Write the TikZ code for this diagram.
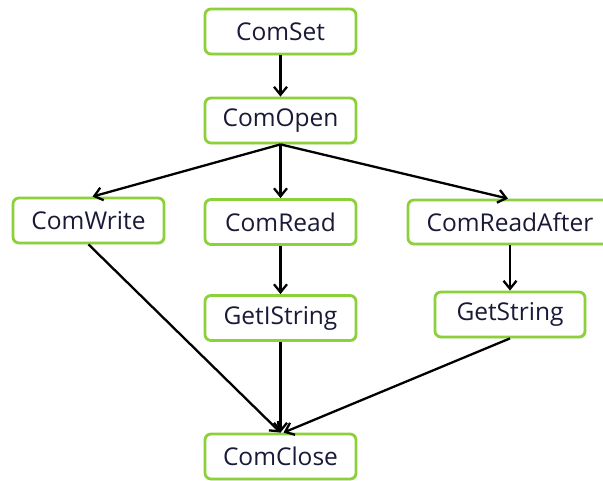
\documentclass[tikz,border=0pt]{standalone}
\usepackage{fontspec}
\setmainfont{Open Sans}
\usetikzlibrary{arrows.meta,shadows}
\definecolor{boxgreen}{HTML}{8CD13A}
\definecolor{txt}{HTML}{1A1A38}
\tikzset{
  box/.style={draw=boxgreen, line width=2.8pt, rounded corners=6pt, fill=white,
    minimum width=151pt, minimum height=45pt, inner sep=0pt, text=txt,
    font=\fontsize{24.5}{27}\selectfont,
    drop shadow={opacity=0.25, shadow xshift=1.2pt, shadow yshift=-1.5pt}},
  conn/.style={line width=2.3pt, -{Straight Barb[length=8pt,width=13pt,line width=2.3pt]}}
}
\begin{document}
\begin{tikzpicture}[x=1pt,y=1pt]
\useasboundingbox (0,0) rectangle (603,481);
\clip (0,0) rectangle (603,481);
\node[box] (set) at (280.5,449.5) {ComSet};
\node[box] (open) at (280.5,360.5) {ComOpen};
\node[box] (write) at (88.5,260.5) {ComWrite};
\node[box] (read) at (280.5,259) {ComRead};
\node[box, minimum width=204pt, minimum height=44pt] (after) at (510,259) {ComReadAfter};
\node[box] (geti) at (280.5,163) {GetIString};
\node[box, minimum width=150pt] (gets) at (510,166.5) {GetString};
\node[box] (close) at (280.5,24.5) {ComClose};
\draw[conn] (set) -- (open);
\draw[conn] (open.south) -- ([xshift=4pt]write.north);
\draw[conn] (open.south) -- (read.north);
\draw[conn] (open.south) -- ([xshift=-2pt]after.north);
\draw[conn] (read) -- (geti);
\draw[conn] (after) -- (gets);
\draw[conn] (write.south) -- (close.north);
\draw[conn] (geti) -- (close);
\draw[conn] (gets.south) -- ([xshift=3pt]close.north);
\end{tikzpicture}
\end{document}
